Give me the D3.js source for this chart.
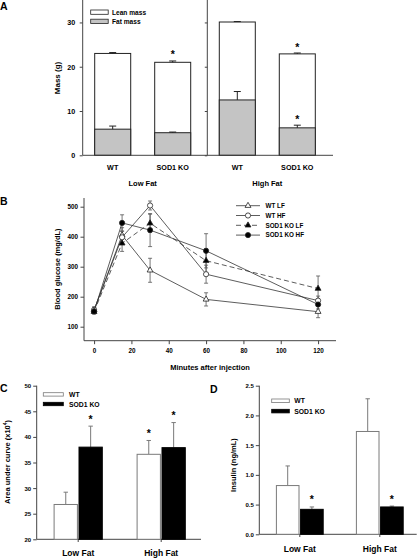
<!DOCTYPE html>
<html><head><meta charset="utf-8">
<script src="https://cdn.jsdelivr.net/npm/d3@7"></script>
<style>
body{margin:0;background:#fff;}
svg{display:block;font-family:"Liberation Sans",Arial,sans-serif;font-weight:bold;}
</style></head>
<body><svg id="c" width="420" height="558"></svg>
<script>
// ---------- Panel A data ----------
const aGroups = ["Low Fat", "High Fat"];
const aGenotypes = ["WT", "SOD1 KO"];
const aTotal = [[23.0, 21.0], [30.1, 22.9]];
const aTotalErr = [[0.2, 0.3], [0.1, 0.2]];
const aFat = [[5.9, 5.1], [12.5, 6.2]];
const aFatErr = [[0.7, 0.15], [1.9, 0.6]];
const aStarTotal = [[false, true], [false, true]];
const aStarFat = [[false, false], [false, true]];
const aTicks = [0, 10, 20, 30];
// ---------- Panel B data ----------
const bMinutes = [0, 15, 30, 60, 120];
const bTicksX = [0, 20, 40, 60, 80, 100, 120];
const bTicksY = [100, 200, 300, 400, 500];
const bSeriesNames = ["WT LF", "WT HF", "SOD1 KO LF", "SOD1 KO HF"];
const bWTLF = [155, 405, 288, 191, 150];
const bWTLFerr = [10, 25, 40, 22, 20];
const bWTHF = [156, 398, 504, 275, 187];
const bWTHFerr = [10, 20, 15, 30, 15];
const bKOLF = [150, 378, 445, 320, 227];
const bKOLFerr = [8, 27, 30, 40, 42];
const bKOHF = [151, 446, 422, 353, 174];
const bKOHFerr = [8, 27, 55, 57, 15];
// ---------- Panel C data ----------
const cGroups = ["Low Fat", "High Fat"];
const cWT = [26.8, 36.6];
const cWTerr = [2.4, 2.7];
const cKO = [38.0, 37.9];
const cKOerr = [4.1, 4.9];
const cStarWT = [false, true];
const cStarKO = [true, true];
const cTicks = [20, 25, 30, 35, 40, 45, 50];
// ---------- Panel D data ----------
const dGroups = ["Low Fat", "High Fat"];
const dWT = [0.82, 1.73];
const dWTerr = [0.33, 0.55];
const dKO = [0.42, 0.46];
const dKOerr = [0.04, 0.015];
const dStarKO = [true, true];
const dTicks = [0.0, 0.5, 1.0, 1.5, 2.0, 2.5];

const svg = d3.select("#c");
const AX = "#444";
const GRAY = "#c4c4c4";
const OUT = "#7a7a7a";

function panelLabel(t, x, y){
  svg.append("text").attr("x", x).attr("y", y).attr("font-size", 10.5).text(t);
}
function styleAxis(g){
  g.select(".domain").remove();
  g.selectAll(".tick line").attr("stroke", AX);
  g.selectAll(".tick text").attr("fill", "#000").attr("font-family", "Liberation Sans,Arial,sans-serif").attr("font-weight", "bold");
}
function vline(x, y1, y2){ svg.append("line").attr("x1", x).attr("x2", x).attr("y1", y1).attr("y2", y2).attr("stroke", AX).attr("stroke-width", 1); }
function hline(y, x1, x2){ svg.append("line").attr("x1", x1).attr("x2", x2).attr("y1", y).attr("y2", y).attr("stroke", AX).attr("stroke-width", 1); }
function errUp(x, y1, y2, hw, col){
  svg.append("line").attr("x1", x).attr("x2", x).attr("y1", y1).attr("y2", y2).attr("stroke", col).attr("stroke-width", 1);
  svg.append("line").attr("x1", x - hw).attr("x2", x + hw).attr("y1", y2).attr("y2", y2).attr("stroke", col).attr("stroke-width", 1);
}
function star(x, y){
  svg.append("text").attr("x", x).attr("y", y).attr("text-anchor", "middle").attr("font-size", 10.5).attr("fill", "#000").text("*");
}

// ================= PANEL A =================
panelLabel("A", 0, 10);
const aY = d3.scaleLinear().domain([0, 35]).range([155.3, 0.3]);
const aLefts = [82.7, 207.3];
aGroups.forEach((grp, gi) => {
  const left = aLefts[gi];
  const x = d3.scaleBand().domain(aGenotypes).range([left, left + 120]).paddingInner(0.4).paddingOuter(0.2);
  vline(left, 0, 155.3);
  const ax = svg.append("g").attr("transform", `translate(${left},0)`)
    .call(d3.axisLeft(aY).tickValues(aTicks).tickSize(gi === 0 ? 3 : 2.5).tickPadding(4.5).tickFormat(gi === 0 ? d3.format("d") : ""));
  styleAxis(ax);
  ax.selectAll(".tick text").attr("font-size", 7.2);
  aGenotypes.forEach((gt, i) => {
    const bx = x(gt), bw = x.bandwidth(), cx = bx + bw / 2;
    svg.append("rect").attr("x", bx).attr("y", aY(aTotal[gi][i])).attr("width", bw)
      .attr("height", aY(0) - aY(aTotal[gi][i])).attr("fill", "#fff").attr("stroke", "#222").attr("stroke-width", 1);
    svg.append("rect").attr("x", bx).attr("y", aY(aFat[gi][i])).attr("width", bw)
      .attr("height", aY(0) - aY(aFat[gi][i])).attr("fill", GRAY).attr("stroke", "#222").attr("stroke-width", 1);
    errUp(cx, aY(aTotal[gi][i]), aY(aTotal[gi][i] + aTotalErr[gi][i]), 3.5, "#222");
    errUp(cx, aY(aFat[gi][i]), aY(aFat[gi][i] + aFatErr[gi][i]), 3.5, "#222");
    if (aStarTotal[gi][i]) star(cx, aY(aTotal[gi][i] + aTotalErr[gi][i]) - 2.5);
    if (aStarFat[gi][i]) star(cx, aY(aFat[gi][i] + aFatErr[gi][i]) - 2.5);
    svg.append("text").attr("x", cx).attr("y", 170).attr("text-anchor", "middle").attr("font-size", 7.2).text(gt);
  });
  svg.append("text").attr("x", left + 60).attr("y", 185.5).attr("text-anchor", "middle").attr("font-size", 7.5).text(grp);
});
hline(155.3, 82.7, 333);
svg.append("text").attr("transform", "translate(60,78) rotate(-90)").attr("text-anchor", "middle").attr("font-size", 8).text("Mass (g)");
[["Lean mass", "#fff", 10], ["Fat mass", GRAY, 19.2]].forEach(([t, f, y]) => {
  svg.append("rect").attr("x", 90.7).attr("y", y).attr("width", 17.5).attr("height", 4.3).attr("fill", f).attr("stroke", "#222").attr("stroke-width", 0.8);
  svg.append("text").attr("x", 112).attr("y", y + 4.7).attr("font-size", 6.6).text(t);
});

// ================= PANEL B =================
panelLabel("B", 0, 205);
const bX = d3.scaleLinear().domain([-5.4, 129.6]).range([84, 336]);
const bY = d3.scaleLinear().domain([53.3, 529]).range([340.7, 198]);
vline(84, 198, 340.7);
hline(340.7, 84, 336);
const bax = svg.append("g").attr("transform", "translate(84,0)").call(d3.axisLeft(bY).tickValues(bTicksY).tickSize(3.5).tickPadding(2.5));
styleAxis(bax); bax.selectAll(".tick text").attr("font-size", 6.3);
const bxa = svg.append("g").attr("transform", "translate(0,340.7)").call(d3.axisBottom(bX).tickValues(bTicksX).tickSize(3.5).tickPadding(4));
styleAxis(bxa); bxa.selectAll(".tick text").attr("font-size", 6.3);
svg.append("text").attr("x", 210).attr("y", 370).attr("text-anchor", "middle").attr("font-size", 7.5).text("Minutes after injection");
svg.append("text").attr("transform", "translate(60,269) rotate(-90)").attr("text-anchor", "middle").attr("font-size", 7.5).text("Blood glucose (mg/dL)");

const bSeries = [
  {name: bSeriesNames[0], v: bWTLF, e: bWTLFerr, shape: "tri", fill: "#fff", dash: null},
  {name: bSeriesNames[1], v: bWTHF, e: bWTHFerr, shape: "circ", fill: "#fff", dash: null},
  {name: bSeriesNames[2], v: bKOLF, e: bKOLFerr, shape: "tri", fill: "#000", dash: "5,3"},
  {name: bSeriesNames[3], v: bKOHF, e: bKOHFerr, shape: "circ", fill: "#000", dash: null}
];
const lineGen = d3.line().x((d, i) => bX(bMinutes[i])).y(d => bY(d));
const EB = "#555";
bSeries.forEach(s => {
  s.v.forEach((v, i) => {
    const x = bX(bMinutes[i]);
    svg.append("line").attr("x1", x).attr("x2", x).attr("y1", bY(v - s.e[i])).attr("y2", bY(v + s.e[i])).attr("stroke", EB).attr("stroke-width", 0.8);
    [v - s.e[i], v + s.e[i]].forEach(w => svg.append("line").attr("x1", x - 2).attr("x2", x + 2).attr("y1", bY(w)).attr("y2", bY(w)).attr("stroke", EB).attr("stroke-width", 0.8));
  });
});
bSeries.forEach(s => {
  svg.append("path").datum(s.v).attr("d", lineGen).attr("fill", "none").attr("stroke", "#333").attr("stroke-width", 0.8)
    .attr("stroke-dasharray", s.dash);
});
function marker(shape, fill, x, y){
  if (shape === "circ") {
    svg.append("circle").attr("cx", x).attr("cy", y).attr("r", 2.6).attr("fill", fill).attr("stroke", "#222").attr("stroke-width", 0.8);
  } else {
    svg.append("path").attr("d", d3.symbol().type(d3.symbolTriangle).size(15)()).attr("transform", `translate(${x},${y})`)
      .attr("fill", fill).attr("stroke", "#222").attr("stroke-width", 0.8);
  }
}
bSeries.forEach(s => s.v.forEach((v, i) => marker(s.shape, s.fill, bX(bMinutes[i]), bY(v))));
bSeries.forEach((s, i) => {
  const y = 205.7 + i * 9.8;
  svg.append("line").attr("x1", 236).attr("x2", 260).attr("y1", y).attr("y2", y).attr("stroke", "#333").attr("stroke-width", 0.8).attr("stroke-dasharray", s.dash);
  marker(s.shape, s.fill, 248, y);
  svg.append("text").attr("x", 265.5).attr("y", y + 2.3).attr("font-size", 6.3).text(s.name);
});

// ================= PANEL C =================
panelLabel("C", 0, 392);
const cY = d3.scaleLinear().domain([20, 50]).range([539.3, 385.7]);
const cX = d3.scaleBand().domain(cGroups).range([36.7, 202.7]).paddingInner(0).paddingOuter(0);
vline(36.7, 385.7, 539.3);
hline(539.3, 36.7, 201);
const cax = svg.append("g").attr("transform", "translate(36.7,0)").call(d3.axisLeft(cY).tickValues(cTicks).tickSize(3.5).tickPadding(2));
styleAxis(cax); cax.selectAll(".tick text").attr("font-size", 6);
const cBW = 23.3;
cGroups.forEach((g, i) => {
  const c = cX(g) + cX.bandwidth() / 2;
  svg.append("line").attr("x1", c).attr("x2", c).attr("y1", 539.3).attr("y2", 542).attr("stroke", AX);
  const wx = c - cBW - 0.8, kx = c + 0.8;
  errUp(wx + cBW / 2, cY(cWT[i]), cY(cWT[i] + cWTerr[i]), 2.2, OUT);
  errUp(kx + cBW / 2, cY(cKO[i]), cY(cKO[i] + cKOerr[i]), 2.2, OUT);
  svg.append("rect").attr("x", wx).attr("y", cY(cWT[i])).attr("width", cBW).attr("height", cY(20) - cY(cWT[i])).attr("fill", "#fff").attr("stroke", OUT).attr("stroke-width", 1);
  svg.append("rect").attr("x", kx).attr("y", cY(cKO[i])).attr("width", cBW).attr("height", cY(20) - cY(cKO[i])).attr("fill", "#000").attr("stroke", "#000").attr("stroke-width", 1);
  if (cStarWT[i]) star(wx + cBW / 2, cY(cWT[i] + cWTerr[i]) - 3.5);
  if (cStarKO[i]) star(kx + cBW / 2, cY(cKO[i] + cKOerr[i]) - 3.5);
  svg.append("text").attr("x", c).attr("y", 556).attr("text-anchor", "middle").attr("font-size", 8.5).text(g);
});
svg.append("text").attr("transform", "translate(10,462) rotate(-90)").attr("text-anchor", "middle").attr("font-size", 7.5)
  .html('Area under curve (x10<tspan dy="-3" font-size="5">4</tspan><tspan dy="3">)</tspan>');
[["WT", "#fff", OUT, 392.7], ["SOD1 KO", "#000", "#000", 402.3]].forEach(([t, f, st, y]) => {
  svg.append("rect").attr("x", 43.3).attr("y", y).attr("width", 20).attr("height", 3.4).attr("fill", f).attr("stroke", st).attr("stroke-width", 0.8);
  svg.append("text").attr("x", 69).attr("y", y + 4.3).attr("font-size", 6.8).text(t);
});

// ================= PANEL D =================
panelLabel("D", 210, 393);
const dY = d3.scaleLinear().domain([0, 2.5]).range([534.3, 385.7]);
const dX = d3.scaleBand().domain(dGroups).range([259.8, 419.8]).paddingInner(0).paddingOuter(0);
vline(259.3, 385.7, 534.3);
hline(534.3, 259.3, 416.7);
const dax = svg.append("g").attr("transform", "translate(259.3,0)").call(d3.axisLeft(dY).tickValues(dTicks).tickSize(3.5).tickPadding(2).tickFormat(d3.format(".1f")));
styleAxis(dax); dax.selectAll(".tick text").attr("font-size", 6);
dGroups.forEach((g, i) => {
  const c = dX(g) + dX.bandwidth() / 2;
  svg.append("line").attr("x1", c).attr("x2", c).attr("y1", 534.3).attr("y2", 537).attr("stroke", AX);
  const bw = 22.6, wx = c - bw - 0.8, kx = c + 0.8;
  errUp(wx + bw / 2, dY(dWT[i]), dY(dWT[i] + dWTerr[i]), 2.2, OUT);
  errUp(kx + bw / 2, dY(dKO[i]), dY(dKO[i] + dKOerr[i]), 2.2, OUT);
  svg.append("rect").attr("x", wx).attr("y", dY(dWT[i])).attr("width", bw).attr("height", dY(0) - dY(dWT[i])).attr("fill", "#fff").attr("stroke", OUT).attr("stroke-width", 1);
  svg.append("rect").attr("x", kx).attr("y", dY(dKO[i])).attr("width", bw).attr("height", dY(0) - dY(dKO[i])).attr("fill", "#000").attr("stroke", "#000").attr("stroke-width", 1);
  if (dStarKO[i]) star(kx + bw / 2, dY(dKO[i] + dKOerr[i]) - 3.5);
  svg.append("text").attr("x", c).attr("y", 552).attr("text-anchor", "middle").attr("font-size", 8.5).text(g);
});
svg.append("text").attr("transform", "translate(236,465) rotate(-90)").attr("text-anchor", "middle").attr("font-size", 7.5).text("Insulin (ng/mL)");
[["WT", "#fff", OUT, 399], ["SOD1 KO", "#000", "#000", 409.3]].forEach(([t, f, st, y]) => {
  svg.append("rect").attr("x", 271.7).attr("y", y).attr("width", 17.6).attr("height", 3.6).attr("fill", f).attr("stroke", st).attr("stroke-width", 0.8);
  svg.append("text").attr("x", 294.3).attr("y", y + 4.4).attr("font-size", 6.8).text(t);
});
</script></body></html>
